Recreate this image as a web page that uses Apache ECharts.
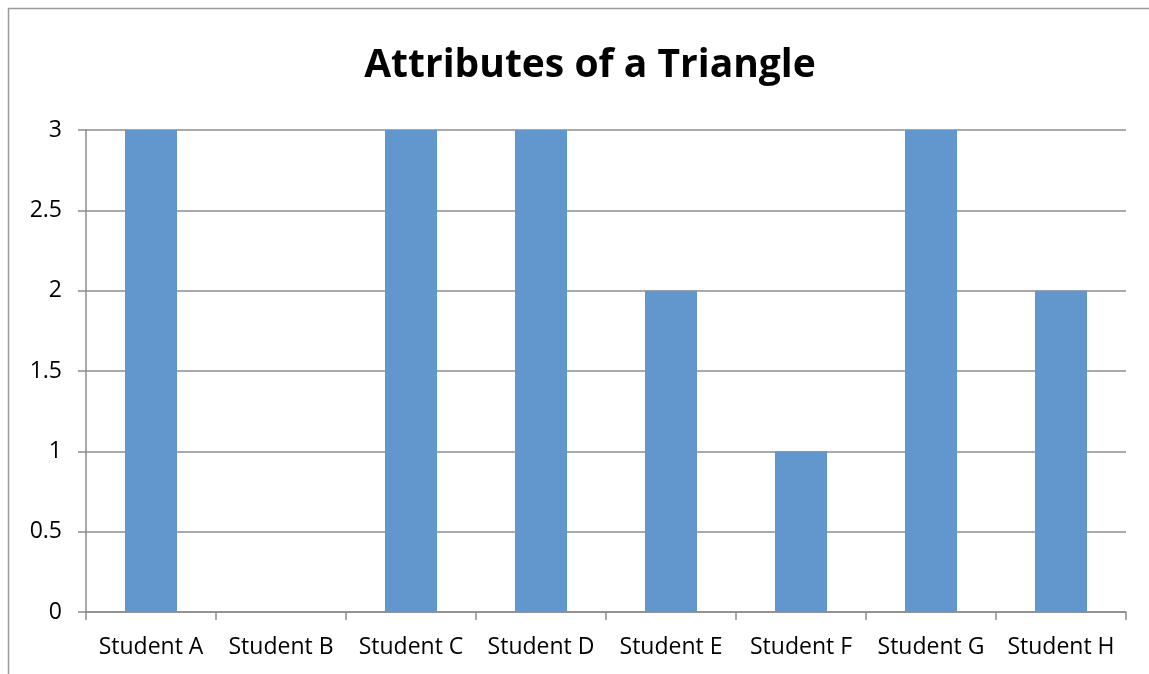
<!DOCTYPE html>
<html>
<head>
<meta charset="utf-8">
<script src="https://cdn.jsdelivr.net/npm/echarts@6/dist/echarts.min.js"></script>
<style>
  html, body { margin: 0; padding: 0; background: #fff; overflow: hidden; }
  #chart { width: 1149px; height: 674px; }
</style>
</head>
<body>
<div id="chart"></div>
<script>
// Number of triangle attributes named by each student
const students = ['Student A', 'Student B', 'Student C', 'Student D', 'Student E', 'Student F', 'Student G', 'Student H'];
const attributeCounts = [3, 0, 3, 3, 2, 1, 3, 2];
const yTicks = { min: 0, max: 3, step: 0.5 };

const chart = echarts.init(document.getElementById('chart'), null, { renderer: 'canvas' });
const labelFont = "'Open Sans', 'Liberation Sans', sans-serif";

chart.setOption({
  animation: false,
  backgroundColor: '#ffffff',
  title: {
    text: 'Attributes of a Triangle',
    left: 585,
    textAlign: 'center',
    top: 41,
    textStyle: { fontFamily: labelFont, fontWeight: 'bold', fontSize: 39, color: '#000' }
  },
  // frame line along the left and top edges of the chart area
  graphic: [{
    type: 'polyline',
    shape: { points: [[8.5, 674], [8.5, 8.5], [1149, 8.5]] },
    style: { fill: null, stroke: '#9a9a9a', lineWidth: 1.5 },
    silent: true
  }],
  grid: { left: 86, right: 23, top: 130, bottom: 62, containLabel: false },
  xAxis: {
    type: 'category',
    data: students,
    axisLine: { lineStyle: { color: '#8c8c8c', width: 1.5 } },
    axisTick: { show: true, length: 8, alignWithLabel: false, lineStyle: { color: '#8c8c8c', width: 1.5 } },
    axisLabel: { interval: 0, margin: 24, fontFamily: labelFont, fontSize: 23, color: '#000' },
    splitLine: { show: false }
  },
  yAxis: {
    type: 'value',
    min: yTicks.min,
    max: yTicks.max,
    interval: yTicks.step,
    axisLine: { show: true, lineStyle: { color: '#8c8c8c', width: 1.5 } },
    axisTick: { show: true, length: 8, lineStyle: { color: '#8c8c8c', width: 1.5 } },
    axisLabel: { margin: 24, fontFamily: labelFont, fontSize: 23, color: '#000' },
    splitLine: { show: true, lineStyle: { color: '#8c8c8c', width: 1.5 } }
  },
  series: [{
    type: 'bar',
    data: attributeCounts,
    barWidth: 52,
    itemStyle: { color: '#6197cc' }
  }]
});
</script>
</body>
</html>
